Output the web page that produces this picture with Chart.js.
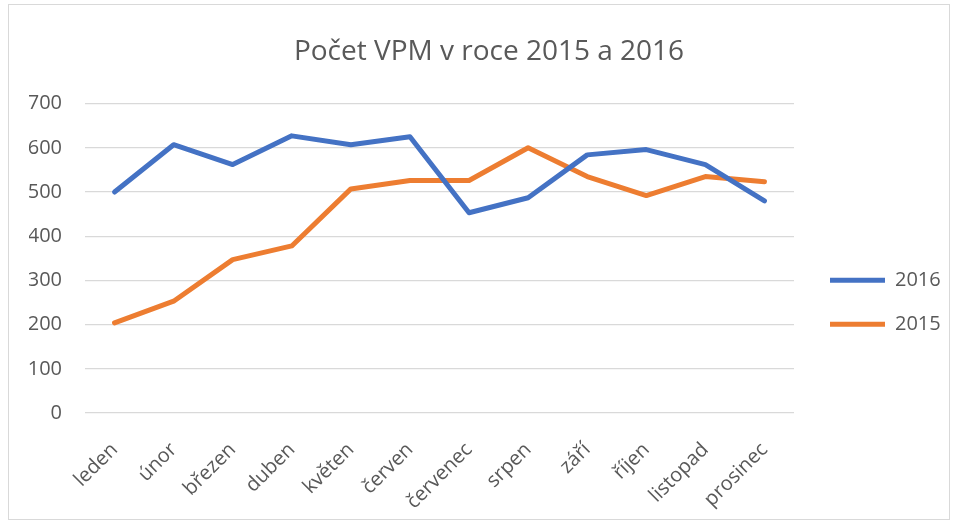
<!DOCTYPE html>
<html>
<head>
<meta charset="utf-8">
<script src="https://cdn.jsdelivr.net/npm/chart.js@4.4.0/dist/chart.umd.min.js"></script>
<style>
  html, body { margin: 0; padding: 0; background: #fff; }
  #wrap { position: absolute; left: 8px; top: 4px; width: 940px; height: 514px; border: 1px solid #d9d9d9; }
</style>
</head>
<body>
<div id="wrap"><canvas id="vpmChart"></canvas></div>
<script>
// ========== Data ==========
const months = ['leden', 'únor', 'březen', 'duben', 'květen', 'červen', 'červenec', 'srpen', 'září', 'říjen', 'listopad', 'prosinec'];
const vpm2016 = [500, 607, 562, 627, 607, 625, 453, 487, 584, 596, 562, 480];
const vpm2015 = [204, 253, 347, 378, 507, 526, 526, 600, 535, 492, 535, 523];
const yTicks = [0, 100, 200, 300, 400, 500, 600, 700];

const textColor = '#595959';
const font = 'Open Sans';

const ctx = document.getElementById('vpmChart');
new Chart(ctx, {
  type: 'line',
  data: {
    labels: months,
    datasets: [
      { label: '2016', data: vpm2016, borderColor: '#4472c4', backgroundColor: '#4472c4', borderWidth: 5, pointRadius: 0, tension: 0, borderCapStyle: 'round', borderJoinStyle: 'round' },
      { label: '2015', data: vpm2015, borderColor: '#ed7d31', backgroundColor: '#ed7d31', borderWidth: 5, pointRadius: 0, tension: 0, borderCapStyle: 'round', borderJoinStyle: 'round' },
    ]
  },
  options: {
    responsive: true, maintainAspectRatio: false, animation: false,
    layout: { padding: { left: 20, right: 0, top: 10, bottom: 0 } },
    plugins: {
      title: { display: true, text: 'Počet VPM v roce 2015 a 2016', color: textColor, font: { size: 28, family: font, weight: 'normal' }, padding: { top: 20, bottom: 35 } },
      legend: {
        position: 'right', maxWidth: 143,
        title: { display: true, text: '', padding: { top: 56, bottom: 0 } },
        labels: { color: textColor, usePointStyle: true, pointStyle: 'line', pointStyleWidth: 55, padding: 24, font: { size: 20, family: font } }
      },
      tooltip: { enabled: false }
    },
    scales: {
      x: {
        offset: true,
        grid: { display: false, drawTicks: false },
        border: { display: false },
        ticks: { color: textColor, font: { size: 20, family: font }, minRotation: 45, maxRotation: 45, padding: 25 },
        afterFit: axis => { axis.paddingLeft = 0; axis.paddingRight = 0; axis.height = 106; }
      },
      y: {
        min: 0, max: 700,
        afterBuildTicks: axis => { axis.ticks = yTicks.map(v => ({ value: v })); },
        grid: { color: '#d9d9d9', lineWidth: 1.3, drawTicks: false },
        border: { display: false },
        ticks: { color: textColor, font: { size: 20, family: font }, padding: 23 },
        afterFit: axis => { axis.width = 56; }
      },
      // empty spacer between plot and legend
      gap: {
        position: 'right', type: 'linear', display: true,
        grid: { display: false, drawTicks: false }, border: { display: false }, ticks: { display: false },
        afterFit: axis => { axis.width = 12; }
      }
    }
  }
});
</script>
</body>
</html>
